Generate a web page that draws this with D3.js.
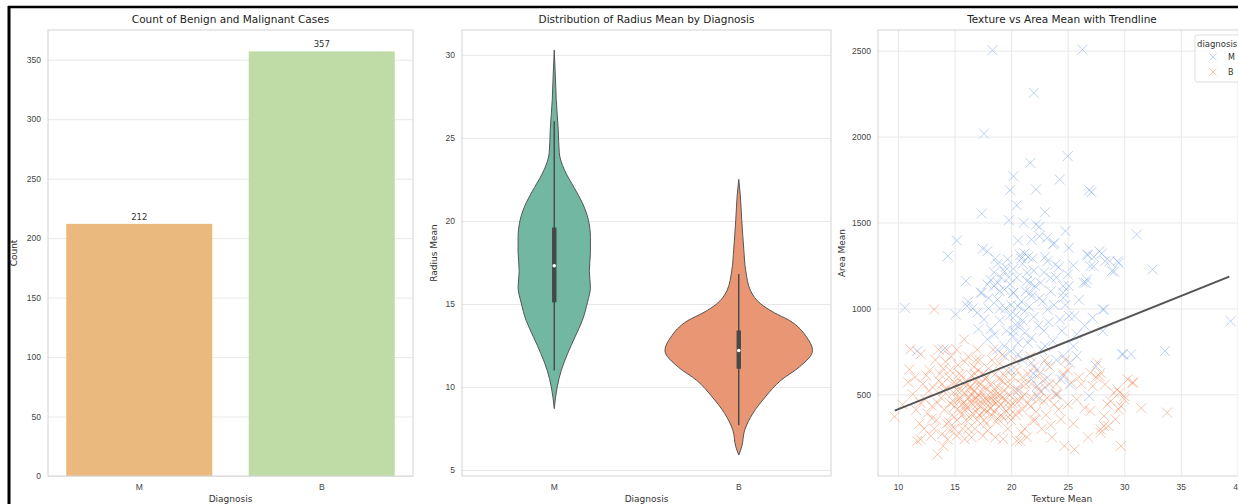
<!DOCTYPE html>
<html>
<head>
<meta charset="utf-8">
<script src="https://cdn.jsdelivr.net/npm/d3@7"></script>
<style>
  body { margin: 0; background: #fff; }
  svg { display: block; font-family: "DejaVu Sans", sans-serif; }
  .tick text { fill: #444; font-size: 8.5px; }
  .title { fill: #222; font-size: 10.5px; text-anchor: middle; }
  .axlabel { fill: #333; font-size: 9px; text-anchor: middle; }
</style>
</head>
<body>
<div id="chart"></div>
<script>
// ---- data ----
const diagnoses = ["M", "B"];
const caseCounts = [212, 357];
const countTicks = [0, 50, 100, 150, 200, 250, 300, 350];

// violin outlines (radius value -> relative density)
const radiusM = [30.3, 28.8, 27.3, 25.5, 24.1, 23.1, 22.0, 21.1, 20.1, 19.0, 18.1, 17.0, 16.0, 15.1, 14.0, 13.0, 12.0, 11.0, 10.0, 8.7];
const densityM = [0, .014, .027, .054, .068, .135, .27, .38, .46, .49, .49, .475, .49, .45, .38, .28, .18, .095, .04, 0];
const radiusB = [22.5, 21.6, 20.1, 18.3, 17.0, 15.8, 15.0, 14.5, 14.0, 13.0, 12.2, 11.2, 10.4, 9.4, 8.4, 7.4, 6.4, 5.9];
const densityB = [0, .02, .04, .068, .095, .16, .30, .47, .69, .92, 1.0, .82, .57, .36, .19, .08, .04, 0];
// box stats: [whiskerLow, q1, median, q3, whiskerHigh]
const boxM = [11.0, 15.1, 17.3, 19.6, 26.0];
const boxB = [7.7, 11.1, 12.2, 13.4, 16.8];
const radiusTicks = [5, 10, 15, 20, 25, 30];

// scatter: [texture mean, area mean]
const malignantPts = [
  [18.35,2502],[26.3,2506],[22.0,2254],[17.6,2017],[21.7,1847],[25.0,1886],[20.2,1769],[19.9,1688],[22.2,1692],[24.3,1750],
  [26.9,1688],[27.1,1677],[17.4,1552],[19.8,1513],[21.1,1498],[22.2,1488],[22.5,1475],[15.2,1395],[22.5,1420],[23.2,1411],
  [23.7,1372],[20.6,1395],[25.1,1353],[17.5,1347],[17.9,1333],[14.4,1304],[20.8,1310],[21.2,1320],[21.5,1300],[21.9,1290],
  [20.9,1290],[23.2,1275],[23.9,1255],[26.8,1310],[27.3,1300],[28.0,1319],[28.7,1275],[29.5,1265],[29.1,1215],[27.3,1245],
  [18.8,1260],[19.7,1285],[19.4,1215],[18.5,1210],[20.2,1230],[16.0,1159],[18.2,1165],[18.8,1150],[19.1,1180],[17.9,1140],
  [21.4,1207],[21.7,1149],[22.6,1149],[23.5,1178],[25.0,1198],[25.1,1130],[26.4,1149],[26.7,1168],[17.4,1091],[20.2,1091],
  [21.7,1091],[24.6,1091],[31.1,1430],[32.5,1227],[26.7,1314],[27.8,1333],[27.0,1246],[28.3,1275],[28.9,1217],[29.4,1275],
  [26.6,1149],[28.1,994],[27.2,946],[28.1,868],[39.4,926],[29.8,733],[30.6,733],[33.6,752],[27.5,665],[10.6,1004],
  [15.1,965],[16.1,1014],[17.0,975],[17.6,936],[17.3,1091],[18.5,1130],[18.8,1052],[19.4,1110],[20.2,1091],[20.6,1014],
  [21.2,984],[21.8,1072],[22.1,1130],[23.2,994],[24.6,1130],[24.6,1062],[25.1,956],[25.6,956],[24.3,936],[28.2,994],
  [17.9,820],[18.5,849],[19.4,781],[20.2,839],[20.6,800],[21.2,858],[21.8,829],[23.0,781],[23.7,810],[19.4,723],
  [20.0,752],[20.6,733],[21.8,684],[22.3,645],[23.2,674],[24.6,723],[25.2,684],[25.8,723],[11.7,752],[21.8,587],
  [22.3,548],[23.2,597],[24.4,587],[24.6,607],[25.2,558],[20.6,529],[22.3,490],[24.0,500],[26.9,490],[29.9,733],
  [19.0,1000],[19.9,960],[20.4,905],[21.0,930],[22.4,900],[22.9,870],[18.2,880],[19.6,870],[20.9,1040],[22.8,1040],
  [23.8,1020],[18.0,1000],[21.4,1160],[19.9,1140],[22.9,1210],[24.2,1240],[20.4,960],[21.6,1010],[16.6,1000],[17.1,880],
  [16.2,1040],[14.0,760],
  [18.6,1290],[19.5,1240],[20.5,1180],[21.0,1260],[22.0,1220],[23.0,1300],[24.0,1180],[25.5,1250],[19.0,1100],[20.0,1020],
  [21.3,1100],[22.5,1060],[23.5,1100],[24.8,1020],[26.0,1050],[18.0,1060],[19.5,1000],[20.8,900],[22.0,950],[23.3,920],
  [24.5,870],[25.8,850],[19.0,930],[20.2,870],[21.5,800],[22.7,760],[24.0,700],[25.5,780],[26.5,900],[21.0,700],
  [22.0,620],[23.0,540],[20.0,640],[18.8,760],[19.8,1180],[23.8,1380],[21.8,1400],[24.8,1450],[20.5,1600],[23.0,1560]
];
const benignPts = [
  [9.7,370],[10.4,440],[10.9,570],[11.0,645],[11.1,762],[11.3,500],[11.7,229],[11.6,410],[12.0,733],[12.0,238],
  [11.9,330],[12.2,560],[12.4,470],[12.6,390],[12.3,300],[12.8,640],[12.9,258],[12.7,520],
  [13.2,994],[13.0,430],[13.3,700],[13.5,151],[13.4,350],[13.6,580],[13.8,480],[13.9,270],[14.0,650],[14.1,410],
  [14.2,530],[14.3,330],[14.4,238],[14.5,600],[14.6,450],[14.7,720],[14.8,380],[14.9,510],[14.6,290],[14.3,760],
  [13.7,620],[13.1,540],[14.0,200],
  [15.0,430],[15.1,560],[15.2,350],[15.3,470],[15.4,620],[15.5,400],[15.6,520],[15.7,300],[15.8,450],[15.9,690],
  [15.85,820],[15.2,260],[15.5,580],[15.7,380],[15.3,670],[16.0,500],[15.9,240],[15.6,440],
  [16.1,420],[16.2,560],[16.3,480],[16.4,360],[16.5,610],[16.6,440],[16.7,520],[16.8,300],[16.9,400],[16.2,720],
  [16.5,250],[16.7,660],[16.4,460],[16.9,580],[16.0,350],[16.8,470],[16.3,540],[16.6,390],[17.0,440],
  [17.1,500],[17.2,380],[17.3,560],[17.4,450],[17.5,620],[17.6,410],[17.7,480],[17.8,330],[17.9,530],[17.2,700],
  [17.5,260],[17.7,590],[17.3,430],[17.9,400],[17.6,350],[17.1,640],[17.8,470],[17.4,510],[18.0,460],[17.0,560],
  [18.1,420],[18.2,560],[18.3,380],[18.4,500],[18.5,460],[18.6,620],[18.7,340],[18.8,540],[18.9,430],[18.3,700],
  [18.6,250],[18.9,590],[18.2,480],[18.5,400],[18.8,360],[18.4,760],[19.0,500],
  [19.1,440],[19.2,580],[19.3,360],[19.4,520],[19.5,470],[19.6,640],[19.7,300],[19.8,420],[19.9,560],[19.3,240],
  [19.6,400],[19.0,680],[19.8,500],
  [20.1,450],[20.2,600],[20.4,380],[20.5,230],[20.6,520],[20.8,229],[20.9,277],[20.7,460],[20.3,700],[20.9,560],[21.0,410],
  [21.2,500],[21.4,250],[21.5,620],[21.7,430],[21.9,350],[21.3,560],[21.8,480],[22.0,660],
  [22.2,400],[22.4,530],[22.7,300],[22.9,460],[23.1,380],[23.4,560],[23.6,250],[23.8,440],[22.5,620],[23.0,700],[23.9,500],
  [24.1,500],[24.2,413],[24.4,355],[24.7,200],[25.0,442],[25.3,568],[25.6,180],[24.6,620],[25.8,470],[25.5,330],
  [26.2,560],[26.5,420],[27.0,403],[27.2,548],[27.6,684],[27.9,626],[27.9,277],[27.9,297],[28.2,316],[28.2,374],
  [28.5,442],[28.6,316],[29.1,510],[29.2,355],[29.5,413],[29.4,529],[29.7,432],[30.0,490],[30.0,471],[30.3,587],
  [30.7,568],[29.7,200],[26.8,250],[27.5,600],[28.8,460],[31.5,420],[27.0,626],[27.8,607],[28.3,558],[29.6,510],
  [30.8,568],[33.8,394],
  [12.5,610],[13.0,360],[13.5,450],[13.9,560],[14.2,690],[14.5,340],[14.8,560],[15.0,300],[15.3,520],[15.6,610],
  [15.9,410],[16.2,300],[16.5,500],[16.8,620],[17.0,350],[17.3,480],[17.6,540],[17.9,290],[18.2,420],[18.5,530],
  [18.8,460],[19.1,380],[19.4,610],[19.7,450],[20.0,350],[20.3,520],[20.6,400],[20.9,480],[21.2,300],[21.5,450],
  [21.8,560],[22.1,350],[22.4,470],[22.8,580],[23.2,480],[23.5,320],[13.2,300],[14.0,520],[14.9,460],[15.5,480],
  [16.0,440],[16.4,540],[16.9,480],[17.4,390],[17.8,600],[18.3,460],[18.7,500],[19.2,480],[19.9,380],[20.4,460],
  [14.6,640],[15.8,560],[16.9,700],[18.0,650],[19.5,560],[21.0,600],[22.6,520],[24.0,560],[25.0,640],[26.0,600],
  [12.0,450],[11.5,600],[13.6,760],[15.2,760],[17.0,760],[19.2,730],[20.5,640],[21.7,720],[23.4,660],[24.8,700]
];
const trendTexture = [9.71, 39.28];
const trendArea = [405, 1185];
const textureTicks = [10, 15, 20, 25, 30, 35, 40];
const areaTicks = [500, 1000, 1500, 2000, 2500];

// ---- drawing ----
const W = 1238, H = 504;
const svg = d3.select("#chart").append("svg").attr("width", W).attr("height", H);
const gridColor = "#e8e8e8", spineColor = "#d4d4d4";
const plotTop = 30, plotBottom = 476;

function frame(x0, x1) {
  svg.append("rect").attr("x", x0).attr("y", plotTop).attr("width", x1 - x0).attr("height", plotBottom - plotTop)
    .attr("fill", "none").attr("stroke", spineColor).attr("stroke-width", 1);
}
function yAxis(scale, x0, x1, ticks) {
  const g = svg.append("g").attr("transform", `translate(${x0},0)`)
    .call(d3.axisLeft(scale).tickValues(ticks).tickFormat(d3.format("d")).tickSize(-(x1 - x0)).tickPadding(7));
  g.select(".domain").remove();
  g.selectAll(".tick line").attr("stroke", gridColor);
  return g;
}
function xAxis(scale, ticks, grid) {
  const g = svg.append("g").attr("transform", `translate(0,${plotBottom})`)
    .call(d3.axisBottom(scale).tickValues(ticks).tickSize(grid ? -(plotBottom - plotTop) : 0).tickPadding(8));
  g.select(".domain").remove();
  g.selectAll(".tick line").attr("stroke", gridColor);
  return g;
}
function labels(cx, title, xlab, ylab, ylx) {
  svg.append("text").attr("class", "title").attr("x", cx).attr("y", 23).text(title);
  svg.append("text").attr("class", "axlabel").attr("x", cx).attr("y", 502).text(xlab);
  svg.append("text").attr("class", "axlabel").attr("transform", `translate(${ylx},${(plotTop + plotBottom) / 2})rotate(-90)`).text(ylab);
}

// Panel 1: bar chart
{
  const x0 = 48, x1 = 413;
  const x = d3.scaleBand(diagnoses, [x0, x1]).paddingInner(0.2).paddingOuter(0.1);
  const y = d3.scaleLinear([0, 375], [plotBottom, plotTop]);
  const barColors = ["#e9b97d", "#c0dca6"];
  yAxis(y, x0, x1, countTicks);
  xAxis(x, diagnoses, false);
  svg.append("g").selectAll("rect").data(diagnoses).join("rect")
    .attr("x", d => x(d)).attr("width", x.bandwidth())
    .attr("y", (d, i) => y(caseCounts[i])).attr("height", (d, i) => y(0) - y(caseCounts[i]))
    .attr("fill", (d, i) => barColors[i]);
  svg.append("g").selectAll("text").data(diagnoses).join("text")
    .attr("x", d => x(d) + x.bandwidth() / 2).attr("y", (d, i) => y(caseCounts[i]) - 4)
    .attr("text-anchor", "middle").attr("font-size", 8.5).attr("fill", "#333")
    .text((d, i) => caseCounts[i]);
  frame(x0, x1);
  labels((x0 + x1) / 2, "Count of Benign and Malignant Cases", "Diagnosis", "Count", 17);
}

// Panel 2: violins
{
  const x0 = 462, x1 = 831;
  const x = d3.scaleBand(diagnoses, [x0, x1]).padding(0);
  const y = d3.scaleLinear([4.64, 31.5], [plotBottom, plotTop]);
  const half = d3.scaleLinear([0, 1], [0, x.bandwidth() * 0.4]);
  yAxis(y, x0, x1, radiusTicks);
  xAxis(x, diagnoses, false);
  const violins = [
    { key: "M", v: radiusM, d: densityM, box: boxM, fill: "#71b7a1" },
    { key: "B", v: radiusB, d: densityB, box: boxB, fill: "#e99675" }
  ];
  violins.forEach(vl => {
    const cx = x(vl.key) + x.bandwidth() / 2;
    const pts = vl.v.map((v, i) => [v, vl.d[i]]);
    const area = d3.area().y(p => y(p[0])).x0(p => cx - half(p[1])).x1(p => cx + half(p[1]))
      .curve(d3.curveMonotoneY);
    svg.append("path").datum(pts).attr("d", area)
      .attr("fill", vl.fill).attr("stroke", "#555").attr("stroke-width", 1);
    const b = vl.box;
    svg.append("line").attr("x1", cx).attr("x2", cx).attr("y1", y(b[0])).attr("y2", y(b[4]))
      .attr("stroke", "#474747").attr("stroke-width", 1.4);
    svg.append("rect").attr("x", cx - 2.2).attr("width", 4.4).attr("y", y(b[3])).attr("height", y(b[1]) - y(b[3]))
      .attr("fill", "#474747");
    svg.append("circle").attr("cx", cx).attr("cy", y(b[2])).attr("r", 1.8).attr("fill", "#fff");
  });
  frame(x0, x1);
  labels((x0 + x1) / 2, "Distribution of Radius Mean by Diagnosis", "Diagnosis", "Radius Mean", 437);
}

// Panel 3: scatter
{
  const x0 = 878, x1 = 1246;
  const x = d3.scaleLinear([8.23, 40.76], [x0, x1]);
  const y = d3.scaleLinear([25, 2620], [plotBottom, plotTop]);
  yAxis(y, x0, x1, areaTicks);
  xAxis(x, textureTicks, true);
  svg.append("clipPath").attr("id", "clip3").append("rect")
    .attr("x", x0).attr("y", plotTop).attr("width", x1 - x0).attr("height", plotBottom - plotTop);
  const cross = (g, color, op) => g.append("path")
    .attr("d", "M-5,-5L5,5M-5,5L5,-5").attr("stroke", color).attr("stroke-width", 1).attr("stroke-opacity", op).attr("fill", "none");
  const plot = svg.append("g").attr("clip-path", "url(#clip3)");
  const series = [
    { pts: malignantPts, color: "#7aa3e8", op: 0.5 },
    { pts: benignPts, color: "#f08a5a", op: 0.5 }
  ];
  series.forEach(s => {
    plot.append("g").selectAll("g").data(s.pts).join("g")
      .attr("transform", d => `translate(${x(d[0])},${y(d[1])})`)
      .each(function () { cross(d3.select(this), s.color, s.op); });
  });
  plot.append("line")
    .attr("x1", x(trendTexture[0])).attr("y1", y(trendArea[0]))
    .attr("x2", x(trendTexture[1])).attr("y2", y(trendArea[1]))
    .attr("stroke", "#555").attr("stroke-width", 2);
  frame(x0, x1);
  labels((x0 + x1) / 2, "Texture vs Area Mean with Trendline", "Texture Mean", "Area Mean", 845);

  // legend
  const lg = svg.append("g").attr("transform", "translate(1195,35)");
  lg.append("rect").attr("width", 60).attr("height", 47).attr("rx", 2)
    .attr("fill", "#fff").attr("fill-opacity", 0.85).attr("stroke", "#ddd");
  lg.append("text").attr("x", 2).attr("y", 12).attr("font-size", 8.5).attr("fill", "#333").text("diagnosis");
  series.forEach((s, i) => {
    const row = lg.append("g").attr("transform", `translate(18,${22 + i * 15})`);
    cross(row, s.color, s.op + 0.25).attr("transform", "scale(0.7)");
    row.append("text").attr("x", 15).attr("y", 3).attr("font-size", 8).attr("fill", "#333").text(diagnoses[i]);
  });
}

// outer border
svg.append("line").attr("x1", 8).attr("x2", W).attr("y1", 7).attr("y2", 7).attr("stroke", "#000").attr("stroke-width", 2.5);
svg.append("line").attr("x1", 9).attr("x2", 9).attr("y1", 6).attr("y2", H).attr("stroke", "#000").attr("stroke-width", 3);
</script>
</body>
</html>
